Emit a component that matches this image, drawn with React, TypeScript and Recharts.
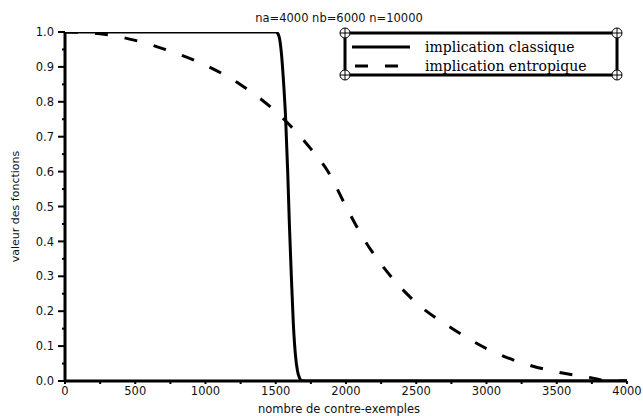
import React from 'react';
import { LineChart, Line, XAxis, YAxis, Legend, Customized } from 'recharts';

const classiqueX = [0, 1500, 1510, 1525, 1540, 1555, 1570, 1585, 1597, 1610, 1625, 1640, 1655, 1670, 1685, 1750, 4000];
const classiqueY = [1, 1, 0.998, 0.985, 0.94, 0.86, 0.755, 0.6, 0.45, 0.31, 0.165, 0.075, 0.028, 0.008, 0.001, 0, 0];

const entropiqueX = [0, 250, 500, 750, 1000, 1250, 1500, 1750, 1875, 2000, 2125, 2250, 2500, 2750, 3000, 3250, 3500, 3750, 3850, 4000];
const entropiqueY = [1, 0.995, 0.976, 0.945, 0.905, 0.849, 0.772, 0.665, 0.598, 0.5, 0.408, 0.335, 0.224, 0.152, 0.093, 0.052, 0.026, 0.009, 0.001, 0];

const xTicks = [0, 250, 500, 750, 1000, 1250, 1500, 1750, 2000, 2250, 2500, 2750, 3000, 3250, 3500, 3750, 4000];
const yTicks = [0, 0.05, 0.1, 0.15, 0.2, 0.25, 0.3, 0.35, 0.4, 0.45, 0.5, 0.55, 0.6, 0.65, 0.7, 0.75, 0.8, 0.85, 0.9, 0.95, 1];

const title = 'na=4000 nb=6000 n=10000';
const xLabel = 'nombre de contre-exemples';
const yLabel = 'valeur des fonctions';
const nameClassique = 'implication classique';
const nameEntropique = 'implication entropique';

const classiqueData = classiqueX.map((x, i) => ({ x, y: classiqueY[i] }));
const entropiqueData = entropiqueX.map((x, i) => ({ x, y: entropiqueY[i] }));

const SANS = 'DejaVu Sans, Verdana, sans-serif';
const SERIF = 'DejaVu Serif, serif';

const XTick = (props: any) => {
  const { x, y, payload } = props;
  const v = payload.value;
  if (v % 500 !== 0) return <g />;
  return (
    <text x={x} y={y} dy="0.78em" textAnchor="middle" fontFamily={SANS} fontSize={11.5} fill="#111">
      {String(v)}
    </text>
  );
};

const Y_TICK_SIZE = 7;
const Y_TICK_MARGIN = 4;
const YTick = (props: any) => {
  const { x, y, payload } = props;
  const v = payload.value;
  const major = Math.round(v * 100) % 10 === 0;
  const axisX = x + Y_TICK_SIZE + Y_TICK_MARGIN;
  const len = major ? 7 : 3;
  return (
    <g>
      <line x1={axisX - len} x2={axisX} y1={y} y2={y} stroke="#000" strokeWidth={2} />
      {major && (
        <text x={x} y={y} dy="0.36em" textAnchor="end" fontFamily={SANS} fontSize={11.5} fill="#111">
          {v.toFixed(1)}
        </text>
      )}
    </g>
  );
};

const Corner = ({ cx, cy }: { cx: number; cy: number }) => (
  <g>
    <circle cx={cx} cy={cy} r={5} fill="#fff" stroke="#000" strokeWidth={1} />
    <line x1={cx - 5} x2={cx + 5} y1={cy} y2={cy} stroke="#000" strokeWidth={1} />
    <line x1={cx} x2={cx} y1={cy - 5} y2={cy + 5} stroke="#000" strokeWidth={1} />
  </g>
);

const LegendBox = (props: any) => {
  const payload = props.payload || [];
  const w = 282;
  const h = 52;
  const bx0 = 5, by0 = 5, bx1 = 277, by1 = 47;
  return (
    <svg width={w} height={h} style={{ display: 'block', overflow: 'visible' }}>
      <rect x={bx0} y={by0} width={bx1 - bx0} height={by1 - by0} fill="#fff" stroke="#000" strokeWidth={3} />
      <Corner cx={bx0} cy={by0} />
      <Corner cx={bx1} cy={by0} />
      <Corner cx={bx0} cy={by1} />
      <Corner cx={bx1} cy={by1} />
      {payload.map((p: any, i: number) => {
        const cy = 19 + i * 19;
        return (
          <g key={i}>
            <line
              x1={i === 0 ? 12 : 15}
              x2={70}
              y1={cy}
              y2={cy}
              stroke="#000"
              strokeWidth={3}
              strokeDasharray={i === 0 ? undefined : '13 17'}
            />
            <text x={85} y={cy + 5} fontFamily={SERIF} fontSize={14} fill="#000">
              {p.value}
            </text>
          </g>
        );
      })}
    </svg>
  );
};

const Title = () => (
  <text x={339} y={22} textAnchor="middle" fontFamily={SANS} fontSize={11.5} fill="#111">
    {title}
  </text>
);

export default function App() {
  return (
    <div style={{ position: 'absolute', left: 0, top: 0, width: 643, height: 416, background: '#fff' }}>
      <LineChart width={643} height={416} margin={{ top: 32, right: 16, bottom: 0, left: 0 }}>
        <XAxis
          dataKey="x"
          type="number"
          domain={[0, 4000]}
          ticks={xTicks}
          interval={0}
          height={35}
          tickSize={3}
          tickMargin={2}
          axisLine={{ stroke: '#000', strokeWidth: 3 }}
          tickLine={{ stroke: '#000', strokeWidth: 2 }}
          tick={<XTick />}
          allowDataOverflow
          label={{
            content: ({ viewBox }: any) => (
              <text
                x={339}
                y={viewBox.y + 32}
                textAnchor="middle"
                fontFamily={SANS}
                fontSize={11.5}
                fill="#111"
              >
                {xLabel}
              </text>
            ),
          }}
        />
        <YAxis
          type="number"
          domain={[0, 1]}
          ticks={yTicks}
          interval={0}
          width={65}
          tickSize={Y_TICK_SIZE}
          tickMargin={Y_TICK_MARGIN}
          axisLine={{ stroke: '#000', strokeWidth: 3 }}
          tickLine={false}
          tick={<YTick />}
          allowDataOverflow
          label={{
            content: ({ viewBox }: any) => {
              const cx = viewBox.x + 15;
              const cy = viewBox.y + viewBox.height / 2;
              return (
                <text
                  x={cx}
                  y={cy}
                  transform={`rotate(-90, ${cx}, ${cy})`}
                  textAnchor="middle"
                  dominantBaseline="central"
                  fontFamily={SANS}
                  fontSize={11}
                  fill="#111"
                >
                  {yLabel}
                </text>
              );
            },
          }}
        />
        <Line
          data={classiqueData}
          dataKey="y"
          name={nameClassique}
          type="monotone"
          stroke="#000"
          strokeWidth={3}
          dot={false}
          activeDot={false}
          isAnimationActive={false}
        />
        <Line
          data={entropiqueData}
          dataKey="y"
          name={nameEntropique}
          type="monotone"
          stroke="#000"
          strokeWidth={3}
          strokeDasharray="13 17"
          dot={false}
          activeDot={false}
          isAnimationActive={false}
        />
        <Legend
          layout="horizontal"
          verticalAlign="middle"
          align="center"
          wrapperStyle={{ left: 340, top: 28, width: 282, height: 52 }}
          content={<LegendBox />}
        />
        <Customized component={Title} />
      </LineChart>
    </div>
  );
}
